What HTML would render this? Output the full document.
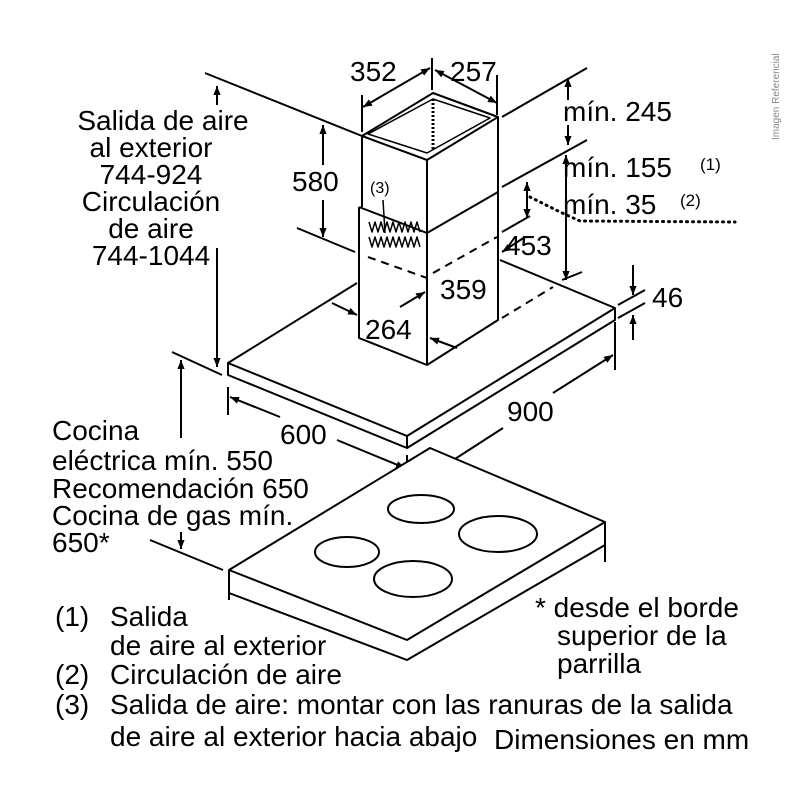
<!DOCTYPE html>
<html><head><meta charset="utf-8"><style>
html,body{margin:0;padding:0;background:#fff;}
svg{display:block;}
text{font-family:"Liberation Sans",Arial,sans-serif;font-size:28px;fill:#000;}
</style></head><body>
<svg width="800" height="800" viewBox="0 0 800 800" xmlns="http://www.w3.org/2000/svg">
<defs>
<marker id="a" viewBox="0 0 10 10" refX="10" refY="5" markerWidth="9" markerHeight="9" orient="auto-start-reverse" markerUnits="userSpaceOnUse"><path d="M0,1 L10,5 L0,9 z" fill="#000"/></marker>
</defs>
<g stroke="#000" stroke-width="2" fill="none" stroke-linejoin="round">
<path d="M357,283 L228,363 L407,436 L615,308 L500,260"/>
<path d="M228,363 L228,375 L407,448 L615,320 L615,308 M407,436 L407,448"/>
<path d="M359,207 L427,233 L498,192 M359,207 L359,338 L427,365 L498,320 L498,192 M427,233 L427,365"/>
<path d="M362,136 L433,93 L498,117 L427,160 Z M362,136 L362,207 M427,160 L427,233 M498,117 L498,192"/>
<path d="M368,134 L433,99 L490,118 L427,153 Z" stroke-width="1.5"/>
<path d="M433,99 L433,150" stroke-width="3" stroke-dasharray="2,2"/>
<path d="M368,257 L427,278 M433,273 L497,237 M502,318 L553,287" stroke-dasharray="8,6"/>
<g stroke-width="1.5">
<path d="M369,222 l3,10 l3,-10 l3,10 l3,-10 l3,10 l3,-10 l3,10 l3,-10 l3,10 l3,-10 l3,10 l3,-10 l3,10 l3,-10 l3,10 l3,-10 l3,10"/>
<path d="M369,237 l3,10 l3,-10 l3,10 l3,-10 l3,10 l3,-10 l3,10 l3,-10 l3,10 l3,-10 l3,10 l3,-10 l3,10 l3,-10 l3,10 l3,-10 l3,10"/>
</g>
<line x1="383" y1="200" x2="385" y2="233" stroke-width="1.5"/>
<path d="M205,73 L362,136 M502,117 L587,68 M502,187 L587,140 M297,228 L355,252 M562,280 L582,272 M618,305 L645,290 M618,318 L645,303 M172,352 L222,375 M150,540 L223,570 M362,95 L362,132 M432,58 L432,90 M497,75 L497,115 M615,322 L615,370 M228,387 L228,415 M407,455 L407,500 M502,232 L530,216"/>
<line x1="323" y1="165" x2="323" y2="125" marker-end="url(#a)"/>
<line x1="323" y1="200" x2="323" y2="237" marker-end="url(#a)"/>
<line x1="363" y1="107" x2="430" y2="68" marker-start="url(#a)" marker-end="url(#a)"/>
<line x1="435" y1="70" x2="497" y2="103" marker-start="url(#a)" marker-end="url(#a)"/>
<line x1="568" y1="100" x2="568" y2="78" marker-end="url(#a)"/>
<line x1="568" y1="125" x2="568" y2="145" marker-end="url(#a)"/>
<line x1="566" y1="155" x2="566" y2="280" marker-start="url(#a)" marker-end="url(#a)"/>
<line x1="527" y1="182" x2="527" y2="218" marker-start="url(#a)" marker-end="url(#a)"/>
<line x1="525" y1="237" x2="502" y2="252" marker-end="url(#a)"/>
<line x1="633" y1="265" x2="633" y2="295" marker-end="url(#a)"/>
<line x1="633" y1="340" x2="633" y2="315" marker-end="url(#a)"/>
<line x1="332" y1="303" x2="357" y2="315" marker-end="url(#a)"/>
<line x1="400" y1="307" x2="425" y2="292" marker-end="url(#a)"/>
<line x1="457" y1="348" x2="430" y2="338" marker-end="url(#a)"/>
<line x1="553" y1="393" x2="613" y2="355" marker-end="url(#a)"/>
<line x1="503" y1="428" x2="410" y2="488" marker-end="url(#a)"/>
<line x1="280" y1="417" x2="230" y2="397" marker-end="url(#a)"/>
<line x1="337" y1="440" x2="405" y2="468" marker-end="url(#a)"/>
<line x1="217" y1="248" x2="217" y2="367" marker-end="url(#a)"/>
<line x1="217" y1="105" x2="217" y2="86" marker-end="url(#a)"/>
<line x1="181" y1="438" x2="181" y2="360" marker-end="url(#a)"/>
<line x1="181" y1="532" x2="181" y2="549" marker-end="url(#a)"/>
<path d="M530,197 L560,212 L580,221 L735,222" stroke-width="3" stroke-dasharray="1,5" stroke-linecap="round"/>
<path d="M229,570 L430,448 L605,522 L407,640 Z" fill="#fff"/>
<path d="M229,570 L229,600 M605,522 L605,562 M229,593 L407,660 L605,545"/>
<ellipse cx="421" cy="509" rx="33" ry="14"/>
<ellipse cx="498" cy="534" rx="39" ry="18"/>
<ellipse cx="347" cy="552" rx="32" ry="15"/>
<ellipse cx="413" cy="579" rx="39" ry="18"/>
</g>
<text x="163" y="130" text-anchor="middle">Salida de aire</text>
<text x="151" y="157" text-anchor="middle">al exterior</text>
<text x="151" y="184" text-anchor="middle">744-924</text>
<text x="151" y="211" text-anchor="middle">Circulación</text>
<text x="151" y="238" text-anchor="middle">de aire</text>
<text x="151" y="265" text-anchor="middle">744-1044</text>
<text x="350" y="81">352</text>
<text x="450" y="81">257</text>
<text x="292" y="191">580</text>
<text x="370" y="193" style="font-size:16px">(3)</text>
<text x="563" y="121">mín. 245</text>
<text x="563" y="177">mín. 155</text>
<text x="700" y="170" style="font-size:17px">(1)</text>
<text x="563" y="214">mín. 35</text>
<text x="680" y="206" style="font-size:17px">(2)</text>
<text x="505" y="255">453</text>
<text x="652" y="307">46</text>
<text x="440" y="299">359</text>
<text x="365" y="339">264</text>
<text x="280" y="444">600</text>
<text x="507" y="421">900</text>
<text x="52" y="440">Cocina</text>
<text x="52" y="470">eléctrica mín. 550</text>
<text x="52" y="498">Recomendación 650</text>
<text x="52" y="525">Cocina de gas mín.</text>
<text x="52" y="552">650*</text>
<text x="55" y="626">(1)</text><text x="110" y="626">Salida</text>
<text x="110" y="655">de aire al exterior</text>
<text x="55" y="684">(2)</text><text x="110" y="684">Circulación de aire</text>
<text x="55" y="714">(3)</text><text x="110" y="714">Salida de aire: montar con las ranuras de la salida</text>
<text x="110" y="746">de aire al exterior hacia abajo</text>
<text x="494" y="749">Dimensiones en mm</text>
<text x="535" y="617">* desde el borde</text>
<text x="557" y="645">superior de la</text>
<text x="557" y="673">parrilla</text>
<text transform="translate(779,140) rotate(-90)" style="font-size:10px;fill:#888">Imagen Referencial</text>
</svg>
</body></html>
